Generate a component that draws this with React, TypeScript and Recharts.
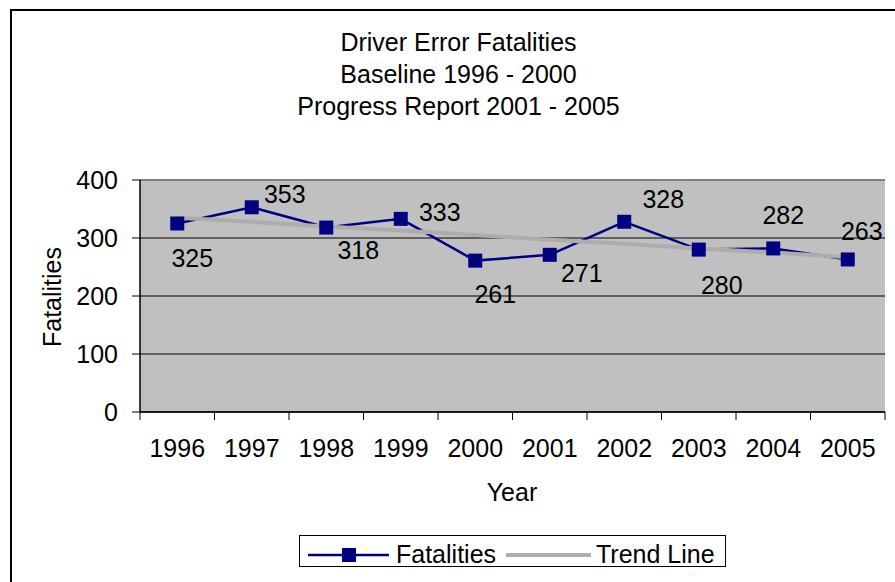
import { ComposedChart, Line, XAxis, YAxis, CartesianGrid, ReferenceLine, LabelList } from 'recharts';

const years = ['1996', '1997', '1998', '1999', '2000', '2001', '2002', '2003', '2004', '2005'];
const fatalities = [325, 353, 318, 333, 261, 271, 328, 280, 282, 263];
const trendLine = [335, 328, 320, 313, 305, 297, 290, 282, 275, 267];
const yTicks = [0, 100, 200, 300, 400];
const titleLines = ['Driver Error Fatalities', 'Baseline 1996 - 2000', 'Progress Report 2001 - 2005'];

// where each value label sits relative to its marker
const labelOffsets = [
  [15, 34],
  [33, -13],
  [32, 22],
  [39, -7],
  [20, 33],
  [32, 18],
  [39, -23],
  [23, 35],
  [10, -33],
  [14, -28],
];

const data = years.map((year, i) => ({ year, fatalities: fatalities[i], trend: trendLine[i] }));

const FONT = '"Liberation Sans", Arial, sans-serif';
const FS = 25;
const NAVY = '#000080';
const TREND = '#ADADAD';
const PLOT_LEFT = 140;
const PLOT_RIGHT = 885;
const BAND = (PLOT_RIGHT - PLOT_LEFT) / years.length;

function Square(props: any) {
  const { cx, cy, index } = props;
  if (cx == null || cy == null) return <g key={index} />;
  return <rect key={index} x={cx - 7} y={cy - 7} width={14} height={14} fill={NAVY} />;
}

function YearTick(props: any) {
  const { x, y, payload, index } = props;
  const left = x - BAND / 2;
  return (
    <g>
      <line x1={left} y1={y} x2={left} y2={y + 8} stroke="#000" strokeWidth={1} />
      {index === years.length - 1 && (
        <line x1={left + BAND} y1={y} x2={left + BAND} y2={y + 8} stroke="#000" strokeWidth={1} />
      )}
      <text x={x} y={y + 45} textAnchor="middle" fontSize={FS} fontFamily={FONT} fill="#000">
        {payload.value}
      </text>
    </g>
  );
}

function ValueLabel(props: any) {
  const { x, y, value, index } = props;
  const [dx, dy] = labelOffsets[index] || [0, -20];
  return (
    <text x={x + dx} y={y + dy} dy="0.36em" textAnchor="middle" fontSize={FS} fontFamily={FONT} fill="#000">
      {value}
    </text>
  );
}

export default function App() {
  return (
    <div style={{ position: 'absolute', left: 0, top: 0, width: 895, height: 582, overflow: 'hidden', background: '#fff', fontFamily: FONT }}>
      <div style={{ position: 'absolute', left: 10, top: 9, width: 930, height: 620, border: '2px solid #000' }} />
      {titleLines.map((t, i) => (
        <div
          key={t}
          style={{ position: 'absolute', left: 0, width: 917, top: 28 + i * 32, textAlign: 'center', fontSize: FS, lineHeight: '29px', color: '#000' }}
        >
          {t}
        </div>
      ))}
      <div style={{ position: 'absolute', left: 0, top: 0 }}>
        <ComposedChart width={895} height={582} data={data} margin={{ top: 180, right: 10, bottom: 80, left: 10 }}>
          <CartesianGrid vertical={false} stroke="#000" strokeWidth={1} fill="#C0C0C0" fillOpacity={1} />
          <XAxis
            dataKey="year"
            scale="band"
            height={90}
            tickLine={false}
            tickSize={0}
            tickMargin={0}
            axisLine={{ stroke: '#000', strokeWidth: 1.5 }}
            tick={<YearTick />}
            interval={0}
          />
          <YAxis
            width={130}
            domain={[0, 400]}
            ticks={yTicks}
            tickSize={8}
            tickMargin={14}
            tickLine={{ stroke: '#000' }}
            axisLine={{ stroke: '#000', strokeWidth: 1.5 }}
            tick={{ fontSize: FS, fontFamily: FONT, fill: '#000' }}
          />
          <YAxis yAxisId="right" orientation="right" width={0} domain={[0, 400]} tick={false} tickLine={false} axisLine={{ stroke: '#808080', strokeWidth: 2 }} />
          <ReferenceLine y={400} stroke="#808080" strokeWidth={2} />
          <Line
            dataKey="fatalities"
            stroke={NAVY}
            strokeWidth={2.5}
            dot={(p: any) => <Square key={p.index} {...p} />}
            activeDot={false}
            isAnimationActive={false}
          >
            <LabelList dataKey="fatalities" content={<ValueLabel />} />
          </Line>
          <Line dataKey="trend" stroke={TREND} strokeWidth={4} dot={false} activeDot={false} isAnimationActive={false} />
        </ComposedChart>
      </div>
      <div style={{ position: 'absolute', left: 0, top: 0, width: 895, height: 582, pointerEvents: 'none' }}>
        <svg width={895} height={582} style={{ position: 'absolute', left: 0, top: 0 }}>
          <text x={52} y={297} dy="0.36em" transform="rotate(-90 52 297)" textAnchor="middle" fontSize={FS} fontFamily={FONT} fill="#000">
            Fatalities
          </text>
          <text x={512} y={501} textAnchor="middle" fontSize={FS} fontFamily={FONT} fill="#000">
            Year
          </text>
        </svg>
      </div>
      <div style={{ position: 'absolute', left: 299, top: 535, width: 425, height: 30, border: '1px solid #000', background: '#fff' }}>
        <svg width={425} height={30} style={{ position: 'absolute', left: 0, top: 0, overflow: 'visible' }}>
          <line x1={8} y1={19} x2={89} y2={19} stroke={NAVY} strokeWidth={2.5} />
          <rect x={42} y={12} width={14} height={14} fill={NAVY} />
          <text x={96} y={27} fontSize={FS} fontFamily={FONT} fill="#000">Fatalities</text>
          <line x1={206} y1={19} x2={291} y2={19} stroke={TREND} strokeWidth={4} />
          <text x={296} y={27} fontSize={FS} fontFamily={FONT} fill="#000">Trend Line</text>
        </svg>
      </div>
    </div>
  );
}
